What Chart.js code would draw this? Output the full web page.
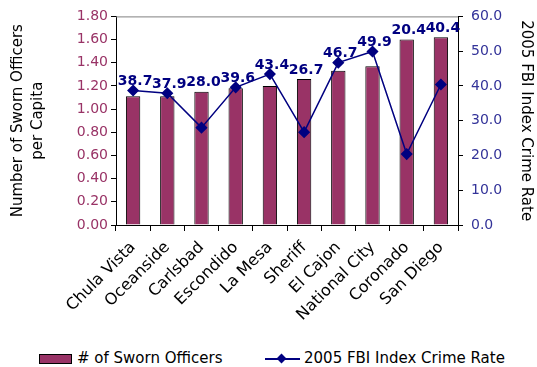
<!DOCTYPE html>
<html>
<head>
<meta charset="utf-8">
<script src="https://cdn.jsdelivr.net/npm/chart.js@4/dist/chart.umd.min.js"></script>
<style>
  body { margin: 0; background: #fff; font-family: "DejaVu Sans", sans-serif; }
  #wrap { position: relative; width: 537px; height: 367px; }
  #chart-box { position: absolute; left: 0; top: 0; width: 537px; height: 340px; }
  .legend { position: absolute; top: 349px; font-size: 15px; color: #000; line-height: 18px; white-space: nowrap; }
  .swatch-bar { display: inline-block; width: 31px; height: 8px; background: #993366; border: 1px solid #000; vertical-align: middle; margin-right: 5px; }
  .swatch-line { display: inline-block; position: relative; width: 35px; height: 2px; background: #000080; vertical-align: middle; margin-right: 4px; }
  .swatch-line::after { content: ""; position: absolute; left: 13px; top: -3px; width: 7px; height: 7px; background: #000080; transform: rotate(45deg); }
</style>
</head>
<body>
<div id="wrap">
  <div id="chart-box"><canvas id="officersChart"></canvas></div>
  <div class="legend" style="left:39px"><span class="swatch-bar"></span># of Sworn Officers</div>
  <div class="legend" style="left:265px"><span class="swatch-line"></span>2005 FBI Index Crime Rate</div>
</div>
<script>
const agencies = ["Chula Vista", "Oceanside", "Carlsbad", "Escondido", "La Mesa",
                  "Sheriff", "El Cajon", "National City", "Coronado", "San Diego"];
const officersPerCapita = [1.11, 1.11, 1.15, 1.18, 1.20, 1.26, 1.33, 1.37, 1.60, 1.62];
const crimeRate2005 = [38.7, 37.9, 28.0, 39.6, 43.4, 26.7, 46.7, 49.9, 20.4, 40.4];

const BAR_COLOR = "#993366";
const LINE_COLOR = "#000080";

// Crime rate values, written above whichever is higher: the bar or the point
const valueLabels = {
  id: "valueLabels",
  afterDatasetsDraw(chart) {
    const ctx = chart.ctx;
    const bars = chart.getDatasetMeta(0).data;
    const points = chart.getDatasetMeta(1).data;
    ctx.save();
    ctx.font = "bold 14px 'DejaVu Sans'";
    ctx.fillStyle = LINE_COLOR;
    ctx.textAlign = "center";
    ctx.textBaseline = "middle";
    crimeRate2005.forEach((v, i) => {
      const top = Math.min(bars[i].y, points[i].y);
      ctx.fillText(v.toFixed(1), bars[i].x + 2, top - 9);
    });
    ctx.restore();
  }
};

// Thin grey frame line along the top of the plot area
const plotFrame = {
  id: "plotFrame",
  beforeDatasetsDraw(chart) {
    const { ctx, chartArea } = chart;
    ctx.save();
    ctx.strokeStyle = "#808080";
    ctx.lineWidth = 1;
    ctx.beginPath();
    ctx.moveTo(chartArea.left, chartArea.top + 0.5);
    ctx.lineTo(chartArea.right, chartArea.top + 0.5);
    ctx.stroke();
    ctx.restore();
  }
};

const ctx = document.getElementById("officersChart").getContext("2d");
new Chart(ctx, {
  type: "bar",
  data: {
    labels: agencies,
    datasets: [
      {
        label: "# of Sworn Officers",
        data: officersPerCapita,
        backgroundColor: BAR_COLOR,
        borderColor: "#000",
        borderWidth: 1,
        barPercentage: 0.42,
        categoryPercentage: 1,
        yAxisID: "y",
        order: 2
      },
      {
        type: "line",
        label: "2005 FBI Index Crime Rate",
        data: crimeRate2005,
        borderColor: LINE_COLOR,
        borderWidth: 1.5,
        pointStyle: "rectRot",
        pointRadius: 5,
        pointBackgroundColor: LINE_COLOR,
        pointBorderColor: LINE_COLOR,
        tension: 0,
        yAxisID: "y1",
        order: 1
      }
    ]
  },
  options: {
    responsive: true,
    maintainAspectRatio: false,
    animation: false,
    layout: { padding: { top: 16, right: 0, bottom: 0, left: 0 } },
    plugins: {
      legend: { display: false },
      tooltip: { enabled: false }
    },
    scales: {
      x: {
        offset: true,
        grid: { offset: true, drawOnChartArea: false, color: "#000", tickLength: 6 },
        border: { color: "#000" },
        ticks: {
          color: "#000",
          font: { family: "DejaVu Sans", size: 16 },
          maxRotation: 45,
          minRotation: 45,
          autoSkip: false,
          padding: 7
        },
        afterFit(scale) { scale.height = 115; }
      },
      y: {
        position: "left",
        min: 0,
        max: 1.8,
        grid: { drawOnChartArea: false, color: "#000", tickLength: 5 },
        border: { color: "#000" },
        ticks: {
          stepSize: 0.2,
          color: BAR_COLOR,
          padding: 3,
          font: { family: "DejaVu Sans", size: 14 },
          callback: v => v.toFixed(2)
        },
        title: {
          display: true,
          text: ["Number of Sworn Officers", "per Capita"],
          color: "#000",
          font: { family: "DejaVu Sans", size: 15, lineHeight: 1.35 },
          padding: { top: 8, bottom: 4 }
        },
        afterFit(scale) { scale.width = 116; }
      },
      y1: {
        position: "right",
        min: 0,
        max: 60,
        grid: { drawOnChartArea: false, color: "#000", tickLength: 5 },
        border: { color: "#000" },
        ticks: {
          stepSize: 10,
          color: "#333399",
          padding: 8,
          font: { family: "DejaVu Sans", size: 14 },
          callback: v => v.toFixed(1)
        },
        title: {
          display: true,
          text: "2005 FBI Index Crime Rate",
          color: "#000",
          font: { family: "DejaVu Sans", size: 15 },
          padding: { top: 2, bottom: 2 }
        },
        afterFit(scale) { scale.width = 79; }
      }
    }
  },
  plugins: [valueLabels, plotFrame]
});
</script>
</body>
</html>
